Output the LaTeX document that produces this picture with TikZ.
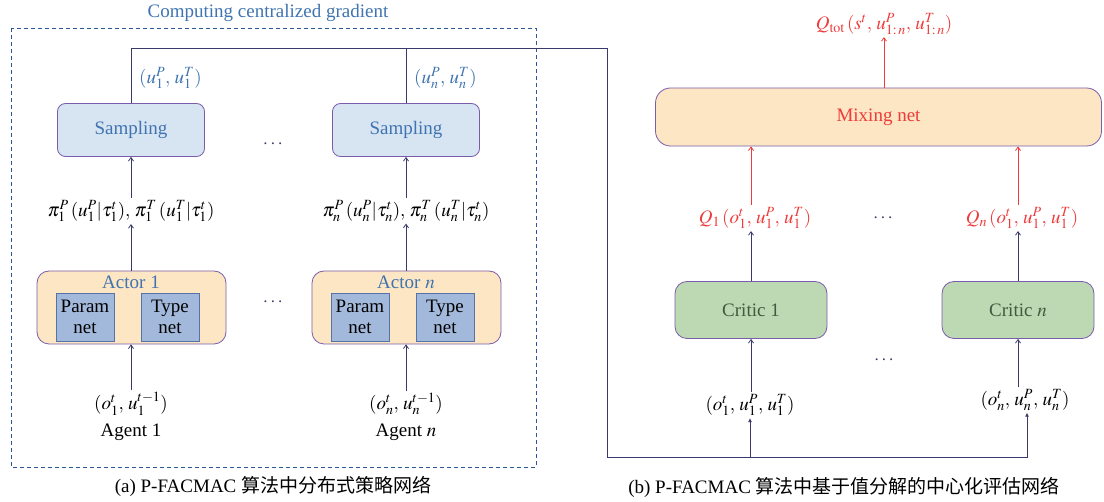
\documentclass[tikz,border=0pt]{standalone}
\usepackage{mathptmx}
\usepackage{fontspec}
\setmainfont{Liberation Serif}
\newfontfamily\cjk{Noto Sans CJK SC}
\usetikzlibrary{arrows.meta}

\definecolor{linkc}{HTML}{3A3A6A}
\definecolor{edgec}{HTML}{7A5CAA}
\definecolor{bluetxt}{HTML}{3F74B0}
\definecolor{dashc}{HTML}{2E5597}
\definecolor{sampfill}{HTML}{D7E4F2}
\definecolor{peach}{HTML}{FCE6C3}
\definecolor{netfill}{HTML}{A3B9DC}
\definecolor{netedge}{HTML}{5573A8}
\definecolor{criticfill}{HTML}{BDD9B3}
\definecolor{critictxt}{HTML}{3F5A3C}
\definecolor{qred}{HTML}{EE3B3B}

\tikzstyle{pfac_style}=[x=1pt,y=-1pt,
  font=\fontsize{19}{22}\selectfont,
  >={Straight Barb[length=3.5pt,width=5pt]},
  link/.style={->,draw=linkc,line width=0.8pt},
  redlink/.style={->,draw=qred,line width=0.8pt},
  feed/.style={draw=linkc,line width=0.8pt},
  sampbox/.style={rectangle,rounded corners=8pt,draw=edgec,line width=0.8pt,fill=sampfill,
    minimum width=147pt,minimum height=53pt,text=bluetxt},
  actorbox/.style={rectangle,rounded corners=12pt,draw=edgec,line width=0.8pt,fill=peach,
    minimum width=189pt,minimum height=73pt},
  subnet/.style={rectangle,draw=netedge,line width=0.8pt,fill=netfill,
    minimum width=58pt,minimum height=48pt,inner sep=0pt,align=center,
    font=\fontsize{19}{21}\selectfont},
  criticbox/.style={rectangle,rounded corners=12pt,draw=edgec,line width=0.8pt,fill=criticfill,
    minimum width=152pt,minimum height=57pt,text=critictxt},
  mixbox/.style={rectangle,rounded corners=15pt,draw=edgec,line width=0.8pt,fill=peach,
    minimum width=446pt,minimum height=58pt,text=qred},
  lbl/.style={inner sep=2pt},
  dots/.style={text=linkc}]

\begin{document}
\begin{tikzpicture}[pfac_style]
    \useasboundingbox (0,0) rectangle (1104,502);

    % Dashed frame round the actors
    \draw[dashc,line width=0.8pt,dash pattern=on 4pt off 3pt] (11,28) rectangle (536,467);
    \node[text=bluetxt] (grad) at (268,13) {Computing centralized gradient};

    % Draw the actor columns
    \foreach \id/\x/\k/\lab in {1/131/1/1, n/406/n/{$n$}} {
        \node[sampbox] (samp-\id) at (\x,130) {Sampling};
        \node[lbl,anchor=west,text=bluetxt] (act-\id) at (\x+6,78) {$(u_{\k}^{P},\,u_{\k}^{T})$};
        \node[lbl] (pi-\id) at (\x,211)
            {$\pi_{\k}^{P}\,(u_{\k}^{P}|\tau_{\k}^{t}),\,\pi_{\k}^{T}\,(u_{\k}^{T}|\tau_{\k}^{t})$};
        \node[actorbox] (actor-\id) at (\x+0.5,307.5) {};
        \node[text=bluetxt,inner sep=0pt] (atitle-\id) at (\x,282) {Actor \lab};
        \node[subnet] (param-\id) at (\x-46,317) {Param\\net};
        \node[subnet] (type-\id) at (\x+39,317) {Type\\net};
        \node[lbl] (obs-\id) at (\x,404) {$(o_{\k}^{t},\,u_{\k}^{t-1})$};
        \node[lbl] (agent-\id) at (\x,432) {Agent \lab};

        \draw[link] (obs-\id.north) -- (actor-\id.south -| obs-\id.north);
        \draw[link] (actor-\id.north -| pi-\id.south) -- (pi-\id.south);
        \draw[link] (pi-\id.north) -- (samp-\id.south);
    }
    \node[dots] (dots-samp) at (273,144) {$\cdots$};
    \node[dots] (dots-actor) at (273,302) {$\cdots$};

    % Mixing net on top of the critics
    \node[mixbox] (mix) at (878.5,117) {Mixing net};
    \node[lbl,text=qred] (qtot) at (884,24) {$Q_{\mathrm{tot}}\,(s^{t},\,u_{1:\,n}^{P},\,u_{1:\,n}^{T})$};
    \draw[redlink] (mix.north -| qtot.south) -- (qtot.south);

    % Draw the critic columns
    \foreach \id/\x/\cx/\cy/\k/\lab in {1/751/750/405/1/1, n/1018/1025/400/n/{$n$}} {
        \node[criticbox] (critic-\id) at (\x,310) {Critic \lab};
        \node[lbl,text=qred] (q-\id) at (\x+4,218) {$Q_{\k}\,(o_{1}^{t},\,u_{1}^{P},\,u_{1}^{T})$};
        \node[lbl] (cin-\id) at (\cx,\cy) {$(o_{\k}^{t},\,u_{\k}^{P},\,u_{\k}^{T})$};

        \draw[link] (critic-\id.south |- cin-\id.north) -- (critic-\id.south);
        \draw[link] (critic-\id.north) -- (critic-\id.north |- q-\id.south);
        \draw[redlink] (critic-\id.north |- q-\id.north) -- (critic-\id.north |- mix.south);
    }
    \node[dots] (dots-q) at (883,218) {$\cdots$};
    \node[dots] (dots-critic) at (884,360) {$\cdots$};

    % Sampled actions fed to the critics
    \coordinate (jTop) at (607,48);
    \coordinate (jBot) at (607,457);
    \draw[feed,-{Latex[length=4pt,width=4pt]}] (samp-1.north) |- (jTop) -- (jBot) -| ([xshift=2pt]cin-n.south);
    \draw[feed] (samp-n.north) -- (samp-n.north |- jTop);
    \draw[feed,-{Latex[length=4pt,width=4pt]}] (jBot -| cin-1.south) -- (cin-1.south);

    % Captions
    \node (cap-a) at (273,486) {(a) P-FACMAC {\cjk 算法中分布式策略网络}};
    \node (cap-b) at (844,487) {(b) P-FACMAC {\cjk 算法中基于值分解的中心化评估网络}};
\end{tikzpicture}
\end{document}
